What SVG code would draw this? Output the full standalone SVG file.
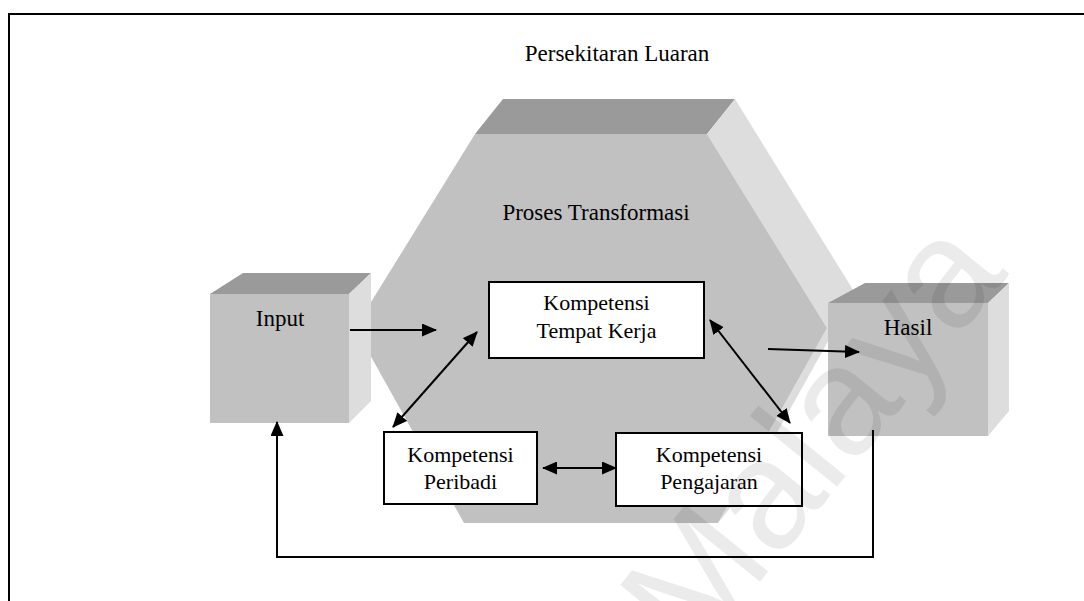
<svg xmlns="http://www.w3.org/2000/svg" width="1084" height="601" viewBox="0 0 1084 601">
  <defs>
    <style>
      .lbl { font-family: "Liberation Serif", "Times New Roman", serif; font-size: 23px; fill: #000; text-anchor: middle; }
      .btx { font-family: "Liberation Serif", "Times New Roman", serif; font-size: 22px; fill: #000; text-anchor: middle; }
      .front { fill: #c1c1c1; }
      .top { fill: #9a9a9a; }
      .side { fill: #dddddd; }
      .box { fill: #ffffff; stroke: #000; stroke-width: 2; }
      .conn { fill: none; stroke: #000; stroke-width: 2; }
    </style>
    <marker id="ah" viewBox="0 0 15 13" markerWidth="15" markerHeight="13" markerUnits="userSpaceOnUse" refX="14" refY="6.5" orient="auto-start-reverse">
      <path d="M0,0 L15,6.5 L0,13 Z" fill="#000"/>
    </marker>
  </defs>

  <rect width="1084" height="601" fill="#ffffff"/>

  <!-- outer frame -->
  <path d="M9,601 L9,14 L1084,14" fill="none" stroke="#000" stroke-width="2"/>
  <text class="lbl" x="617" y="61">Persekitaran Luaran</text>

  <!-- hexagon: transformation process -->
  <g id="proses">
    <polygon class="top" points="503,99 735,99 707,134 475,134"/>
    <polygon class="side" points="707,134 735,99 855,293 827,328"/>
    <polygon class="side" points="827,328 855,293 746,488 718,523"/>
    <polygon class="front" points="475,134 707,134 827,328 718,523 464,523 355,328"/>
    <text class="lbl" x="596" y="220">Proses Transformasi</text>
  </g>

  <!-- Input cube -->
  <g id="input">
    <polygon class="top" points="243,273 371,273 349,294 210,294"/>
    <polygon class="side" points="349,294 371,273 371,401 349,423"/>
    <rect class="front" x="210" y="294" width="139" height="129"/>
    <text class="lbl" x="280" y="326">Input</text>
  </g>

  <!-- Hasil cube -->
  <g id="hasil">
    <polygon class="top" points="865,283 1009,283 988,303 828,303"/>
    <polygon class="side" points="988,303 1009,283 1009,411 988,436"/>
    <rect class="front" x="828" y="303" width="160" height="133"/>
    <text class="lbl" x="908" y="335">Hasil</text>
  </g>

  <g id="tempat-kerja">
    <rect class="box" x="489" y="282" width="215" height="76"/>
    <text class="btx" x="596.5" y="310">Kompetensi</text>
    <text class="btx" x="596.5" y="338">Tempat Kerja</text>
  </g>

  <g id="peribadi">
    <rect class="box" x="384" y="432" width="153" height="72"/>
    <text class="btx" x="460.5" y="462">Kompetensi</text>
    <text class="btx" x="460.5" y="489">Peribadi</text>
  </g>

  <g id="pengajaran">
    <rect class="box" x="616" y="433" width="186" height="73"/>
    <text class="btx" x="709" y="462">Kompetensi</text>
    <text class="btx" x="709" y="489">Pengajaran</text>
  </g>

  <g id="connectors">
    <line class="conn" x1="350" y1="330" x2="436" y2="330" marker-end="url(#ah)"/>
    <line class="conn" x1="393" y1="427" x2="477" y2="332" marker-start="url(#ah)" marker-end="url(#ah)"/>
    <line class="conn" x1="710" y1="320" x2="790" y2="423" marker-start="url(#ah)" marker-end="url(#ah)"/>
    <line class="conn" x1="768" y1="349" x2="859" y2="352" marker-end="url(#ah)"/>
    <line class="conn" x1="543" y1="468" x2="616" y2="468" marker-start="url(#ah)" marker-end="url(#ah)"/>
    <polyline class="conn" points="873,430 873,557 277,557 277,422" marker-end="url(#ah)"/>
  </g>

  <!-- faint watermark -->
  <text x="695" y="662" transform="rotate(-51 695 662)" font-family="Liberation Sans, Arial, sans-serif" font-size="155" fill="#000" fill-opacity="0.08">Malaya</text>
</svg>
